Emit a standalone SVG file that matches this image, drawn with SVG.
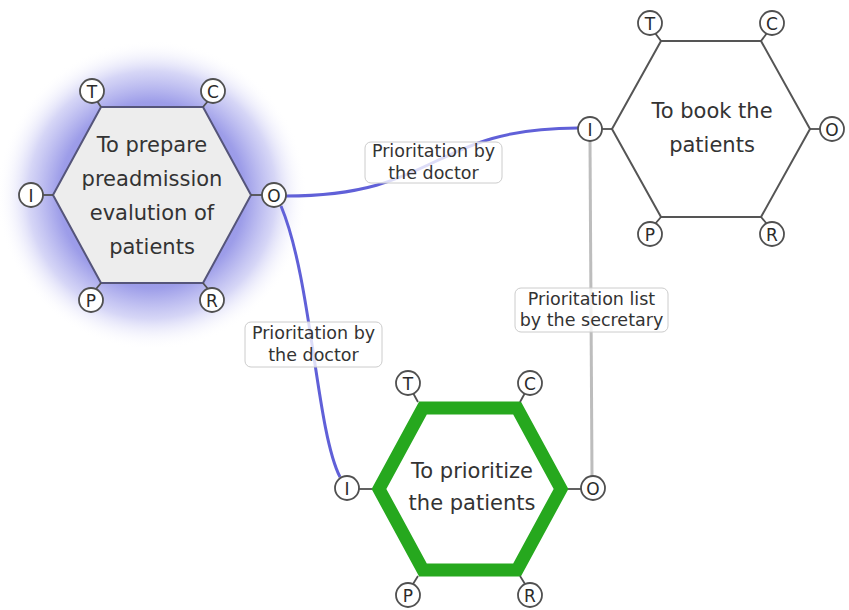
<svg xmlns="http://www.w3.org/2000/svg" width="849" height="610" viewBox="0 0 849 610">
<style>
.port circle{fill:#fff;stroke:#505050;stroke-width:1.8}
.port line{stroke:#505050;stroke-width:1.8}
.port text{font-family:"DejaVu Sans",sans-serif;font-size:17px;fill:#2a2a2a;text-anchor:middle}
.ntext{font-family:"DejaVu Sans",sans-serif;font-size:21px;fill:#333;text-anchor:middle}
.lbl rect{fill:#fff;fill-opacity:0.78;stroke:#ccc;stroke-width:1}
.lbl text{font-family:"DejaVu Sans",sans-serif;font-size:17.5px;fill:#333;text-anchor:middle}
.blue{fill:none;stroke:#6060d8;stroke-width:3}
.gray{fill:none;stroke:#bdbdbd;stroke-width:3}
</style>
<defs>
<radialGradient id="glow" cx="152" cy="195" r="155" gradientUnits="userSpaceOnUse">
<stop offset="0" stop-color="#6a6ae0" stop-opacity="0.95"/>
<stop offset="0.6" stop-color="#7777e0" stop-opacity="0.72"/>
<stop offset="0.8" stop-color="#8a8ae6" stop-opacity="0.35"/>
<stop offset="1" stop-color="#ffffff" stop-opacity="0"/>
</radialGradient>
</defs>
<rect width="849" height="610" fill="#fff"/>
<circle cx="152" cy="195" r="155" fill="url(#glow)"/>

<g id="connectors">
<path class="blue" d="M286,196 C440,196 430,128 578,128"/>
<path class="blue" d="M281,206 C312,280 316,430 340,477"/>
<path class="gray" d="M590,141 L592,476"/>
</g>

<g id="node1">
<polygon points="101,107 203,107 251,195 203,283 101,283 53,195" fill="#ededed" stroke="#55557a" stroke-width="2"/>
<text class="ntext" x="152" y="152">To prepare</text>
<text class="ntext" x="152" y="186">preadmission</text>
<text class="ntext" x="152" y="220">evalution of</text>
<text class="ntext" x="152" y="254">patients</text>
<g class="port">
<line x1="97" y1="101" x2="101" y2="107"/><circle cx="92" cy="91" r="12"/><text x="92" y="97.5">T</text>
<line x1="208" y1="101" x2="203" y2="107"/><circle cx="213" cy="91" r="12"/><text x="213" y="97.5">C</text>
<line x1="43" y1="195" x2="53" y2="195"/><circle cx="31" cy="195" r="12"/><text x="31" y="201.5">I</text>
<line x1="251" y1="195" x2="262" y2="195"/><circle cx="274" cy="195" r="12"/><text x="274" y="201.5">O</text>
<line x1="96" y1="289" x2="101" y2="283"/><circle cx="91" cy="300" r="12"/><text x="91" y="306.5">P</text>
<line x1="208" y1="289" x2="203" y2="283"/><circle cx="212" cy="300" r="12"/><text x="212" y="306.5">R</text>
</g>
</g>

<g id="node2">
<polygon points="661,41 761,41 810,129 761,217 661,217 612,129" fill="#fff" stroke="#555" stroke-width="2"/>
<text class="ntext" x="712" y="118">To book the</text>
<text class="ntext" x="712" y="152">patients</text>
<g class="port">
<line x1="655" y1="33" x2="661" y2="41"/><circle cx="650" cy="23" r="12"/><text x="650" y="29.5">T</text>
<line x1="767" y1="33" x2="761" y2="41"/><circle cx="772" cy="23" r="12"/><text x="772" y="29.5">C</text>
<line x1="602" y1="129" x2="612" y2="129"/><circle cx="590" cy="129" r="12"/><text x="590" y="135.5">I</text>
<line x1="810" y1="129" x2="820" y2="129"/><circle cx="832" cy="129" r="12"/><text x="832" y="135.5">O</text>
<line x1="655" y1="224" x2="661" y2="217"/><circle cx="650" cy="234" r="12"/><text x="650" y="240.5">P</text>
<line x1="767" y1="224" x2="761" y2="217"/><circle cx="772" cy="234" r="12"/><text x="772" y="240.5">R</text>
</g>
</g>

<g id="node3">
<polygon points="423,408 517,408 561,489 517,570 423,570 379,489" fill="#fff" stroke="#26a81e" stroke-width="13" stroke-linejoin="miter"/>
<text class="ntext" x="472" y="478">To prioritize</text>
<text class="ntext" x="472" y="510">the patients</text>
<g class="port">
<line x1="413" y1="393" x2="418" y2="402"/><circle cx="408" cy="383" r="12"/><text x="408" y="389.5">T</text>
<line x1="525" y1="393" x2="520" y2="402"/><circle cx="530" cy="383" r="12"/><text x="530" y="389.5">C</text>
<line x1="359" y1="489" x2="372" y2="489"/><circle cx="347" cy="488" r="12"/><text x="347" y="494.5">I</text>
<line x1="568" y1="489" x2="581" y2="489"/><circle cx="593" cy="488" r="12"/><text x="593" y="494.5">O</text>
<line x1="413" y1="584" x2="418" y2="576"/><circle cx="408" cy="595" r="12"/><text x="408" y="601.5">P</text>
<line x1="525" y1="584" x2="520" y2="576"/><circle cx="530" cy="595" r="12"/><text x="530" y="601.5">R</text>
</g>
</g>

<g id="labels">
<g class="lbl"><rect x="365" y="142" width="137" height="41" rx="6"/>
<text x="433.5" y="157">Prioritation by</text><text x="433.5" y="179">the doctor</text></g>
<g class="lbl"><rect x="245" y="322" width="137" height="45" rx="6"/>
<text x="313.5" y="339">Prioritation by</text><text x="313.5" y="361">the doctor</text></g>
<g class="lbl"><rect x="515" y="288" width="153" height="44" rx="6"/>
<text x="591.5" y="305">Prioritation list</text><text x="591.5" y="326">by the secretary</text></g>
</g>
</svg>
